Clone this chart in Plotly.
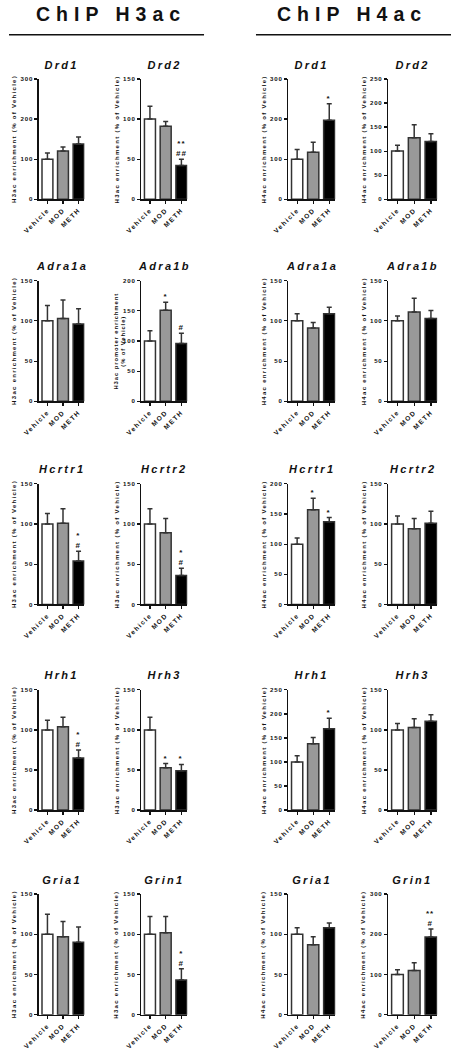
import plotly.graph_objects as go

# ---------------- data ----------------
groups = ["Vehicle", "MOD", "METH"]
genes = ["Drd1", "Drd2", "Adra1a", "Adra1b", "Hcrtr1", "Hcrtr2", "Hrh1", "Hrh3", "Gria1", "Grin1"]

h3ac_vehicle = [100, 100, 100, 100, 100, 100, 100, 100, 100, 100]
h3ac_mod = [120, 91, 103, 151, 101, 89, 104, 53, 97, 102]
h3ac_meth = [138, 42, 96, 96, 54, 36, 65, 49, 90, 43]
h3ac_vehicle_err = [15, 16, 19, 17, 13, 19, 12, 16, 25, 22]
h3ac_mod_err = [10, 6, 23, 13, 18, 18, 12, 5, 19, 20]
h3ac_meth_err = [17, 8, 19, 17, 12, 9, 10, 8, 19, 14]
h3ac_ymax = [300, 150, 150, 200, 150, 150, 150, 150, 150, 150]
h3ac_dtick = [100, 50, 50, 50, 50, 50, 50, 50, 50, 50]
h3ac_sig_mod = ["", "", "", "*", "", "", "", "*", "", ""]
h3ac_sig_meth = ["", "**<br>##", "", "#", "*<br>#", "*<br>#", "*<br>#", "*", "", "*<br>#"]
h3ac_ytitle = ["H3ac enrichment (% of Vehicle)"] * 3 + ["H3ac promoter enrichment<br>(% of Vehicle)"] + ["H3ac enrichment (% of Vehicle)"] * 6

h4ac_vehicle = [100, 100, 100, 100, 100, 100, 100, 100, 100, 100]
h4ac_mod = [117, 128, 91, 111, 157, 94, 138, 103, 87, 110]
h4ac_meth = [197, 120, 109, 103, 137, 101, 169, 111, 108, 193]
h4ac_vehicle_err = [24, 12, 9, 6, 10, 10, 13, 8, 8, 12]
h4ac_mod_err = [25, 27, 7, 17, 19, 13, 13, 11, 10, 19]
h4ac_meth_err = [41, 16, 8, 10, 7, 15, 22, 8, 6, 20]
h4ac_ymax = [300, 250, 150, 150, 200, 150, 250, 150, 150, 300]
h4ac_dtick = [100, 50, 50, 50, 50, 50, 50, 50, 50, 100]
h4ac_sig_mod = ["", "", "", "", "*", "", "", "", "", ""]
h4ac_sig_meth = ["*", "", "", "", "*", "", "*", "", "", "**<br>#"]
h4ac_ytitle = ["H4ac enrichment (% of Vehicle)"] * 10

headers = ["ChIP H3ac", "ChIP H4ac"]

# ---------------- layout geometry (pixels) ----------------
W, H = 451, 1050
cols_px = [(30.5, 77), (135, 182), (285, 333), (387, 437)]
rows_px = [(75.5, 196.5), (278.5, 400), (483, 604.5), (690.5, 811.5), (896, 1017.5)]

FONT = "Liberation Sans, Arial, sans-serif"
bar_colors = ["#ffffff", "#999999", "#000000"]
edge = "#333333"

def px_x(p):
    return p / W

def px_y(p):
    return 1 - p / H

fig = go.Figure()
annotations = []
shapes = []
layout_axes = {}

panels = []
for i in range(10):
    panels.append(dict(gene=genes[i], row=i // 2, col=i % 2,
                       vals=[h3ac_vehicle[i], h3ac_mod[i], h3ac_meth[i]],
                       errs=[h3ac_vehicle_err[i], h3ac_mod_err[i], h3ac_meth_err[i]],
                       ymax=h3ac_ymax[i], dtick=h3ac_dtick[i],
                       sig=["", h3ac_sig_mod[i], h3ac_sig_meth[i]], ytitle=h3ac_ytitle[i]))
for i in range(10):
    panels.append(dict(gene=genes[i], row=i // 2, col=2 + i % 2,
                       vals=[h4ac_vehicle[i], h4ac_mod[i], h4ac_meth[i]],
                       errs=[h4ac_vehicle_err[i], h4ac_mod_err[i], h4ac_meth_err[i]],
                       ymax=h4ac_ymax[i], dtick=h4ac_dtick[i],
                       sig=["", h4ac_sig_mod[i], h4ac_sig_meth[i]], ytitle=h4ac_ytitle[i]))

for n, p in enumerate(panels, start=1):
    sfx = "" if n == 1 else str(n)
    xl, xr = cols_px[p["col"]]
    yt, yb = rows_px[p["row"]]
    fig.add_trace(go.Bar(
        x=groups, y=p["vals"], width=0.7,
        marker=dict(color=bar_colors, line=dict(color=edge, width=1.5)),
        error_y=dict(type="data", array=p["errs"], arrayminus=[0, 0, 0], symmetric=False,
                     color=edge, thickness=1.5, width=2.5),
        xaxis="x" + sfx, yaxis="y" + sfx, showlegend=False, hoverinfo="skip"))
    layout_axes["xaxis" + sfx] = dict(
        domain=[px_x(xl), px_x(xr)], anchor="y" + sfx, type="category",
        range=[-0.55, 2.38], showline=True, linecolor="#111", linewidth=1.5,
        ticks="outside", ticklen=3, tickwidth=1.2, tickcolor="#111",
        tickangle=-45, showgrid=False, zeroline=False, fixedrange=True,
        tickfont=dict(family=FONT, size=6.6, color="#111", weight="bold"))
    layout_axes["yaxis" + sfx] = dict(
        domain=[px_y(yb), px_y(yt)], anchor="x" + sfx,
        range=[0, p["ymax"]], dtick=p["dtick"], tick0=0,
        showline=True, linecolor="#111", linewidth=1.5,
        ticks="outside", ticklen=3, tickwidth=1.2, tickcolor="#111",
        showgrid=False, zeroline=False, fixedrange=True,
        tickfont=dict(family=FONT, size=6.1, color="#111", weight="bold"))
    # panel title
    annotations.append(dict(text=p["gene"], xref="paper", yref="paper",
                            x=px_x((xl + xr) / 2), y=px_y(yt - 14.5),
                            xanchor="center", yanchor="middle", showarrow=False,
                            font=dict(family=FONT, size=11, color="#111", weight="bold", style="italic")))
    # y title
    two = "<br>" in p["ytitle"]
    annotations.append(dict(text=p["ytitle"], xref="paper", yref="paper",
                            x=px_x(xl - (22 if two else 25)), y=px_y((yt + yb) / 2),
                            xanchor="center", yanchor="middle", textangle=-90, showarrow=False,
                            font=dict(family=FONT, size=(5.9 if two else 6), color="#111", weight="bold")))
    # significance
    for k in range(3):
        if p["sig"][k]:
            annotations.append(dict(text=p["sig"][k], xref="x" + sfx, yref="y" + sfx,
                                    x=k, y=p["vals"][k] + p["errs"][k],
                                    xanchor="center", yanchor="bottom", showarrow=False, yshift=-1,
                                    font=dict(family=FONT, size=8, color="#111", weight="bold")))

# headers
header_centers = [104.5, 349.5]
header_lines = [(0, 199), (252, 451)]
for t, c, (l0, l1) in zip(headers, header_centers, header_lines):
    annotations.append(dict(text=t, xref="paper", yref="paper", x=px_x(c), y=px_y(10),
                            xanchor="center", yanchor="middle", showarrow=False,
                            font=dict(family=FONT, size=19.5, color="#111", weight="bold")))
    shapes.append(dict(type="line", xref="paper", yref="paper",
                       x0=px_x(l0), x1=px_x(l1), y0=px_y(31), y1=px_y(31),
                       line=dict(color="#111", width=1.5)))

fig.update_layout(width=W, height=H, margin=dict(l=0, r=0, t=0, b=0),
                  paper_bgcolor="white", plot_bgcolor="white",
                  annotations=annotations, shapes=shapes, bargap=0.3,
                  **layout_axes)

post = """
document.documentElement.style.margin = '0';
document.documentElement.style.padding = '0';
document.documentElement.style.overflow = 'hidden';
document.body.style.margin = '0';
document.body.style.padding = '0';
document.body.style.overflow = 'hidden';
var gd = document.getElementById('{plot_id}');
gd.style.position = 'fixed';
gd.style.left = '0px';
gd.style.top = '0px';
gd.style.margin = '0';
function spacing(){
  gd.querySelectorAll('text').forEach(function(t){
    var fs = parseFloat(t.style.fontSize || '0');
    var ls = 0;
    if (fs >= 18) ls = 6; else if (fs >= 10) ls = 2.3; else if (fs >= 7.5) ls = 1;
    else if (fs >= 6.5) ls = 1.4; else if (fs >= 6.05) ls = 0.8; else if (fs >= 5.95) ls = 1.3; else if (fs > 0) ls = 0.9;
    t.setAttribute('letter-spacing', ls + 'px');
    t.style.letterSpacing = ls + 'px';
  });
}
spacing();
gd.on && gd.on('plotly_afterplot', spacing);
"""
fig.write_html("out.html", post_script=post, config={"displayModeBar": False, "staticPlot": True})
